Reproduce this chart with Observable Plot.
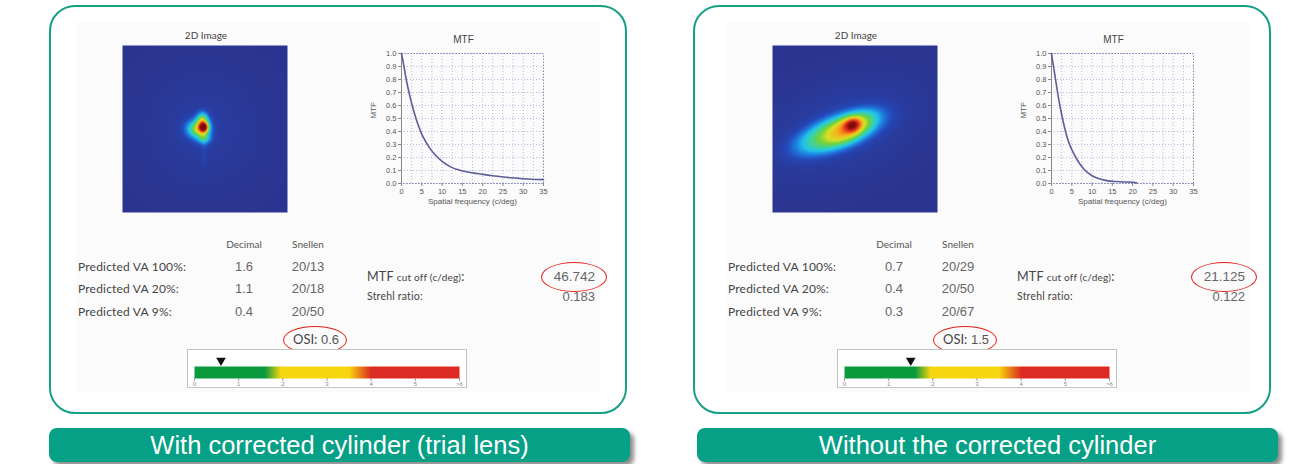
<!DOCTYPE html>
<html>
<head>
<meta charset="utf-8">
<script src="https://cdn.jsdelivr.net/npm/d3@7"></script>
<script src="https://cdn.jsdelivr.net/npm/@observablehq/plot@0.6"></script>
<style>
  html, body { margin: 0; padding: 0; background: #fff; }
  #root { position: relative; width: 1289px; height: 464px; overflow: hidden; font-family: "Lato", "DejaVu Sans", sans-serif; color: #4a4a4a; }
  .panel { position: absolute; top: 5px; border: 2.5px solid #17a086; border-radius: 26px; box-sizing: border-box; width: 578px; height: 409px; }
  .shot { position: absolute; background: #fbfbfb; }
  .banner { position: absolute; top: 428px; height: 34px; background: #05a085; border-radius: 8px; color: #fff;
            font-family: "Liberation Sans Narrow", "Liberation Sans", Arial, sans-serif; font-size: 25.5px; line-height: 34px; text-align: center;
            box-shadow: 4px 4px 4px rgba(0,0,0,0.45); }
  .abs { position: absolute; white-space: nowrap; }
  .t { position: absolute; white-space: nowrap; transform: translate(0, -50%); }
  .tc { position: absolute; white-space: nowrap; transform: translate(-50%, -50%); }
  .tr { position: absolute; white-space: nowrap; transform: translate(-100%, -50%); }
  .hdr { font-size: 10px; color: #555; }
  .lab { font-size: 12px; letter-spacing: 0.2px; color: #444; }
  .val { font-size: 13px; color: #666; font-family: "Liberation Sans", Arial, sans-serif; }
  .ell { position: absolute; border: 1.8px solid #e2231a; border-radius: 50%; box-sizing: border-box; }
  .osibox { position: absolute; border: 1px solid #c4c4c4; box-sizing: border-box; background: #fff; }
  .ttl { font-size: 10px; color: #444; }
  svg { overflow: visible; }
</style>
</head>
<body>
<div id="root"></div>
<script>
// ---------------- DATA ----------------
const panelTitles = ["With corrected cylinder (trial lens)", "Without the corrected cylinder"];

// MTF curves (spatial frequency c/deg vs MTF)
const mtfFreqA = [0, 0.5, 1, 1.5, 2, 3, 4, 5, 6, 7, 8, 10, 12, 14, 16, 18, 20, 22, 25, 28, 30, 32, 35];
const mtfValA  = [1.0, 0.92, 0.83, 0.75, 0.68, 0.56, 0.46, 0.38, 0.32, 0.27, 0.23, 0.17, 0.13, 0.105, 0.09, 0.08, 0.07, 0.062, 0.05, 0.042, 0.037, 0.033, 0.03];
const mtfFreqB = [0, 0.5, 1, 1.5, 2, 3, 4, 5, 6, 7, 8, 10, 12, 14, 16, 18, 20, 21];
const mtfValB  = [1.0, 0.9, 0.8, 0.7, 0.61, 0.46, 0.34, 0.26, 0.2, 0.15, 0.11, 0.06, 0.035, 0.02, 0.015, 0.012, 0.01, 0.005];
const mtfXTicks = [0, 5, 10, 15, 20, 25, 30, 35];
const mtfYTicks = [0, 0.1, 0.2, 0.3, 0.4, 0.5, 0.6, 0.7, 0.8, 0.9, 1.0];

// 2D PSF images, described as blobs (relative image coords, y down)
const psfAX   = [0.494, 0.49, 0.45, 0.485, 0.495, 0.495, 0.49];
const psfAY   = [0.49, 0.49, 0.50, 0.44, 0.555, 0.62, 0.50];
const psfASx  = [0.02, 0.034, 0.045, 0.025, 0.03, 0.012, 0.22];
const psfASy  = [0.02, 0.034, 0.038, 0.03, 0.025, 0.08, 0.22];
const psfAAmp = [0.58, 0.2, 0.45, 0.38, 0.28, 0.05, 0.04];
const psfAAng = [0, 0, 0, 0, 0, 0, 0];
const psfAPow = [1, 1, 1, 1, 1, 1, 1];

const psfBX   = [0.40, 0.47, 0.485, 0.42];
const psfBY   = [0.52, 0.49, 0.475, 0.50];
const psfBSx  = [0.19, 0.11, 0.035, 0.30];
const psfBSy  = [0.07, 0.05, 0.028, 0.16];
const psfBAmp = [0.45, 0.22, 0.33, 0.07];
const psfBAng = [-20, -25, -20, -20];
const psfBPow = [1.5, 1.3, 1, 1];

const jetColors = ["#2b3591", "#2448b8", "#1f7fe0", "#22c4ec", "#3fd39b", "#6fd13d", "#d7e126", "#f7b21c", "#ee5a1c", "#c81e1a", "#7c0c0c"];

// Table
const vaLabels = ["Predicted VA 100%:", "Predicted VA 20%:", "Predicted VA 9%:"];
const vaDecimalA = ["1.6", "1.1", "0.4"];
const vaSnellenA = ["20/13", "20/18", "20/50"];
const vaDecimalB = ["0.7", "0.4", "0.3"];
const vaSnellenB = ["20/29", "20/50", "20/67"];
const mtfCutoff = ["46.742", "21.125"];
const strehl = ["0.183", "0.122"];
const osiValues = [0.6, 1.5];

// OSI scale
const osiTicks = [0, 1, 2, 3, 4, 5, 6];
const osiTickLabels = ["0", "1", "2", "3", "4", "5", ">6"];
const osiStops = [0, 1.6, 1.95, 3.5, 4.0, 6];
const osiColors = ["#0c9a3e", "#0c9a3e", "#f6d60e", "#f6d60e", "#dc2b22", "#dc2b22"];

// ---------------- DRAW ----------------
const root = document.getElementById("root");
function el(cls, style, html) {
  const d = document.createElement("div");
  d.className = cls;
  Object.assign(d.style, style);
  if (html != null) d.innerHTML = html;
  root.appendChild(d);
  return d;
}
function place(node, left, top) {
  const d = el("abs", {left: left + "px", top: top + "px"});
  d.appendChild(node);
}

function mtfPlot(xs, ys) {
  const data = xs.map((x, i) => ({x, y: ys[i]}));
  const xGrid = d3.range(2.5, 35, 2.5);
  return Plot.plot({
    width: 200, height: 190,
    marginLeft: 46, marginRight: 12, marginTop: 28, marginBottom: 32,
    style: {background: "transparent", fontFamily: "Liberation Sans, Arial, sans-serif", fontSize: "7.5px", color: "#555", overflow: "visible"},
    x: {domain: [0, 35]},
    y: {domain: [0, 1]},
    marks: [
      Plot.gridX(xGrid, {stroke: "#8f8fd0", strokeOpacity: 0.6, strokeDasharray: "1,2"}),
      Plot.gridY(mtfYTicks, {stroke: "#8f8fd0", strokeOpacity: 0.6, strokeDasharray: "1,2"}),
      Plot.frame({stroke: "#8a8ab8", strokeDasharray: "1.5,1.5"}),
      Plot.ruleX([0], {stroke: "#888"}),
      Plot.axisX({ticks: mtfXTicks, tickSize: 3, tickPadding: 2, label: null, stroke: "#888"}),
      Plot.axisY({ticks: mtfYTicks, tickFormat: d3.format(".1f"), tickSize: 3, tickPadding: 2, label: null, stroke: "#888"}),
      Plot.line(data, {x: "x", y: "y", stroke: "#5d5c9c", strokeWidth: 1.6, curve: "monotone-x"}),
      Plot.text(["MTF"], {frameAnchor: "left", dx: -28, rotate: -90, fontSize: 8, fill: "#555"}),
      Plot.text(["Spatial frequency (c/deg)"], {frameAnchor: "bottom", dy: 20, fontSize: 8, fill: "#555"}),
      Plot.text(["MTF"], {frameAnchor: "top", dy: -18, dx: -9, fontSize: 10, fill: "#444"})
    ]
  });
}

function psfPlot(bx, by, bsx, bsy, bamp, bang, bpow) {
  const rad = bang.map(a => a * Math.PI / 180);
  const f = (x, y) => {
    let s = 0;
    for (let i = 0; i < bx.length; i++) {
      const dx = x - bx[i], dy = y - by[i];
      const c = Math.cos(rad[i]), sn = Math.sin(rad[i]);
      const u = dx * c + dy * sn, v = -dx * sn + dy * c;
      const r2 = (u * u) / (2 * bsx[i] * bsx[i]) + (v * v) / (2 * bsy[i] * bsy[i]);
      s += bamp[i] * Math.exp(-Math.pow(r2, bpow[i]));
    }
    return Math.min(1, s);
  };
  return Plot.plot({
    width: 165, height: 167, margin: 0,
    style: {background: "transparent", overflow: "visible"},
    x: {domain: [0, 1], axis: null},
    y: {domain: [0, 1], reverse: true, axis: null},
    color: {type: "linear", domain: [0, 1], interpolate: d3.piecewise(d3.interpolateRgb, jetColors)},
    marks: [
      Plot.raster({x1: 0, y1: 0, x2: 1, y2: 1, fill: f, pixelSize: 1})
    ]
  });
}

function osiPlot(osi) {
  return Plot.plot({
    width: 278, height: 37,
    marginLeft: 6, marginRight: 7, marginTop: 15, marginBottom: 10,
    style: {background: "transparent", fontFamily: "Liberation Sans, Arial, sans-serif", fontSize: "6px", color: "#888", overflow: "visible"},
    x: {domain: [0, 6]},
    y: {domain: [0, 1], axis: null},
    color: {type: "linear", domain: osiStops, range: osiColors},
    marks: [
      Plot.raster({x1: 0, y1: 0, x2: 6, y2: 1, fill: (x, y) => x, pixelSize: 1}),
      Plot.axisX({ticks: osiTicks, tickFormat: (d, i) => osiTickLabels[i], tickSize: 3, tickPadding: 0, label: null, stroke: "#999", fill: "#888"}),
      Plot.dot([osi], {x: d => d, y: () => 1, dy: -6, symbol: "triangle", rotate: 180, r: 3.6, fill: "#111", stroke: "none"})
    ]
  });
}

const sets = [
  {px: 49, ox: 0, fx: mtfFreqA, fv: mtfValA, psf: [psfAX, psfAY, psfASx, psfASy, psfAAmp, psfAAng, psfAPow], dec: vaDecimalA, sn: vaSnellenA, bannerLeft: 49},
  {px: 693, ox: 650, fx: mtfFreqB, fv: mtfValB, psf: [psfBX, psfBY, psfBSx, psfBSy, psfBAmp, psfBAng, psfBPow], dec: vaDecimalB, sn: vaSnellenB, bannerLeft: 697}
];

sets.forEach((s, k) => {
  const o = s.ox;
  el("panel", {left: s.px + "px"});
  el("shot", {left: (76 + o) + "px", top: "22px", width: "524px", height: "370px"});

  // 2D image
  el("tc ttl", {left: (206 + o) + "px", top: "35px"}, "2D Image");
  place(psfPlot(...s.psf), 122 + o, 45);

  // MTF
  place(mtfPlot(s.fx, s.fv), 355 + o, 25);

  // Table
  el("tc hdr", {left: (244 + o) + "px", top: "244px"}, "Decimal");
  el("tc hdr", {left: (308 + o) + "px", top: "244px"}, "Snellen");
  const rowsY = [266, 288, 311];
  vaLabels.forEach((lab, i) => {
    el("t lab", {left: (78 + o) + "px", top: rowsY[i] + "px"}, lab);
    el("tc val", {left: (244 + o) + "px", top: rowsY[i] + "px"}, s.dec[i]);
    el("tc val", {left: (308 + o) + "px", top: rowsY[i] + "px"}, s.sn[i]);
  });
  el("t lab", {left: (367 + o) + "px", top: "276px", fontSize: "12.5px"}, 'MTF <span style="font-size:10px">cut off (c/deg)</span>:');
  el("t lab", {left: (367 + o) + "px", top: "296px", fontSize: "10.5px"}, "Strehl ratio:");
  el("tr val", {left: (595 + o) + "px", top: "276px", fontSize: "13.5px"}, mtfCutoff[k]);
  el("tr val", {left: (595 + o) + "px", top: "296px"}, strehl[k]);
  el("ell", {left: (541 + o) + "px", top: "262px", width: "66px", height: "30px"});

  // OSI
  el("tc val", {left: (316 + o) + "px", top: "339px", fontSize: "13px", color: "#555"},
     '<span style="font-family:Lato,sans-serif;color:#444">OSI:</span> ' + osiValues[k].toFixed(1));
  el("ell", {left: (283 + o) + "px", top: "326px", width: "64px", height: "28px"});
  const box = el("osibox", {left: (187 + o) + "px", top: "349px", width: "280px", height: "39px"});
  const op = osiPlot(osiValues[k]);
  op.style.position = "absolute"; op.style.left = "0px"; op.style.top = "1px";
  box.appendChild(op);

  // Banner
  el("banner", {left: s.bannerLeft + "px", width: "581px"}, panelTitles[k]);
});
</script>
</body>
</html>
